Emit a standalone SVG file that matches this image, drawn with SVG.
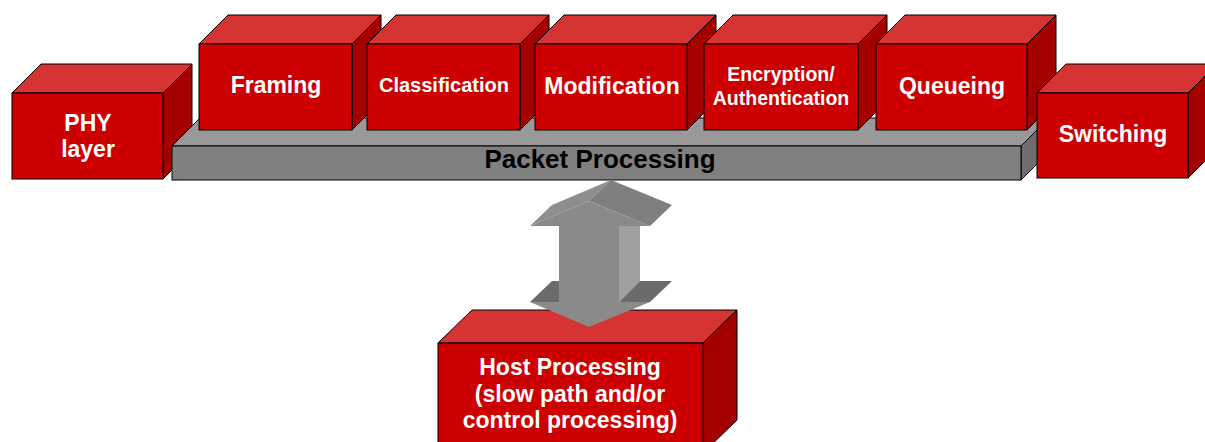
<svg xmlns="http://www.w3.org/2000/svg" width="1205" height="442" viewBox="0 0 1205 442">
  <style>
    .front { fill: #cc0000; stroke: #000; stroke-width: 1; }
    .top { fill: #d63333; stroke: #000; stroke-width: 1; }
    .side { fill: #a40000; stroke: #000; stroke-width: 1; }
    .slab-front { fill: #808080; stroke: #000; stroke-width: 1; }
    .slab-top { fill: #999999; stroke: #000; stroke-width: 1; }
    .slab-side { fill: #6e6e6e; stroke: #000; stroke-width: 1; }
    .label { font-family: "Liberation Sans", Arial, sans-serif; font-weight: bold; fill: #ffffff; text-anchor: middle; }
    .dark { fill: #000000; }
  </style>
  <rect width="1205" height="442" fill="#ffffff"/>

  <!-- PHY layer block -->
  <g id="phy">
    <polygon class="top" points="12,93 41,64 192,64 163,93"/>
    <polygon class="side" points="163,93 192,64 192,150 163,179"/>
    <rect class="front" x="12" y="93" width="151" height="86"/>
    <text class="label" x="88" y="131" font-size="23">PHY</text>
    <text class="label" x="88" y="157" font-size="23">layer</text>
  </g>

  <!-- Packet processing base slab -->
  <g id="packet-processing">
    <polygon class="slab-top" points="172,146 200,118 1049,118 1021,146"/>
    <polygon class="slab-side" points="1021,146 1049,118 1049,152 1021,180"/>
    <rect class="slab-front" x="172" y="146" width="849" height="34"/>
    <text class="label dark" x="600" y="168" font-size="26">Packet Processing</text>
  </g>

  <g id="framing">
    <polygon class="top" points="199,44 228,15 381,15 352,44"/>
    <polygon class="side" points="352,44 381,15 381,101 352,130"/>
    <rect class="front" x="199" y="44" width="153" height="86"/>
    <text class="label" x="276" y="93" font-size="23">Framing</text>
  </g>

  <g id="classification">
    <polygon class="top" points="367,44 396,15 549,15 520,44"/>
    <polygon class="side" points="520,44 549,15 549,101 520,130"/>
    <rect class="front" x="367" y="44" width="153" height="86"/>
    <text class="label" x="444" y="92" font-size="20">Classification</text>
  </g>

  <g id="modification">
    <polygon class="top" points="535,44 564,15 716,15 687,44"/>
    <polygon class="side" points="687,44 716,15 716,101 687,130"/>
    <rect class="front" x="535" y="44" width="152" height="86"/>
    <text class="label" x="612" y="94" font-size="23">Modification</text>
  </g>

  <g id="encryption">
    <polygon class="top" points="704,44 733,15 887,15 858,44"/>
    <polygon class="side" points="858,44 887,15 887,101 858,130"/>
    <rect class="front" x="704" y="44" width="154" height="86"/>
    <text class="label" x="781" y="81" font-size="19.5">Encryption/</text>
    <text class="label" x="781" y="105" font-size="19.5">Authentication</text>
  </g>

  <g id="queueing">
    <polygon class="top" points="876,44 905,15 1056,15 1027,44"/>
    <polygon class="side" points="1027,44 1056,15 1056,101 1027,130"/>
    <rect class="front" x="876" y="44" width="151" height="86"/>
    <text class="label" x="952" y="94" font-size="23">Queueing</text>
  </g>

  <g id="switching">
    <polygon class="top" points="1037,93 1066,64 1217,64 1188,93"/>
    <polygon class="side" points="1188,93 1217,64 1217,149 1188,178"/>
    <rect class="front" x="1037" y="93" width="151" height="85"/>
    <text class="label" x="1113" y="142" font-size="23">Switching</text>
  </g>

  <!-- Host processing block -->
  <g id="host">
    <polygon class="top" points="438,343 472,310 737,310 703,343"/>
    <polygon class="side" points="703,343 737,310 737,420 703,453"/>
    <rect class="front" x="438" y="343" width="265" height="110"/>
    <text class="label" x="570" y="375" font-size="23">Host Processing</text>
    <text class="label" x="570" y="402" font-size="23">(slow path and/or</text>
    <text class="label" x="570" y="428" font-size="23">control processing)</text>
  </g>

  <!-- Connectors: 3D double-headed block arrow between the slab and the host -->
  <g id="connectors">
    <g id="arrow-packet-host">
      <!-- extruded faces -->
      <polygon fill="#8e8e8e" points="530,226 552,205 611,180 589,201"/>
      <polygon fill="#7f7f7f" points="589,201 611,180 672,205 650,226"/>
      <polygon fill="#a0a0a0" points="619,226 640,226 640,281 619,302"/>
      <polygon fill="#6b6b6b" points="530,302 552,281 559,281 559,302"/>
      <polygon fill="#6b6b6b" points="619,302 640,281 672,281 650,302"/>
      <!-- front face -->
      <polygon fill="#8a8a8a" points="589,201 650,226 619,226 619,302 650,302 589,327 530,302 559,302 559,226 530,226"/>
    </g>
  </g>
</svg>
